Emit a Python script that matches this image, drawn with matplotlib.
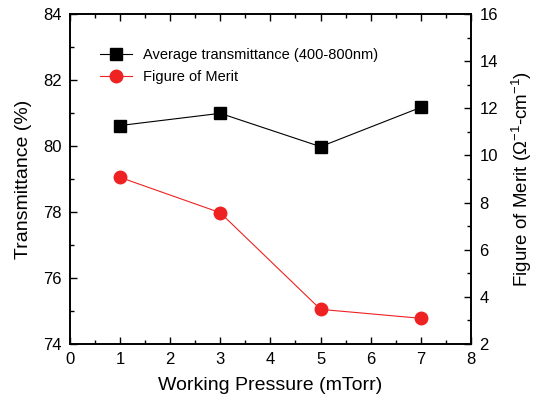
import matplotlib
matplotlib.use('Agg')
import matplotlib.pyplot as plt
from matplotlib.ticker import MultipleLocator

plt.rcParams['font.family'] = ['Liberation Sans', 'DejaVu Sans']
plt.rcParams['mathtext.fontset'] = 'custom'
plt.rcParams['mathtext.rm'] = 'Liberation Sans'

# data
pressure = [1, 3, 5, 7]
transmittance = [80.62, 80.99, 79.98, 81.17]
merit = [9.07, 7.57, 3.47, 3.09]

fig = plt.figure(figsize=(5.37, 4.0), dpi=100)
ax = fig.add_axes([0.130, 0.14, 0.747, 0.825])
ax2 = ax.twinx()

l1, = ax.plot(pressure, transmittance, color='black', lw=0.8, marker='s',
              ms=8, label='Average transmittance (400-800nm)')
l2, = ax2.plot(pressure, merit, color='#ee2222', lw=0.8, marker='o',
               ms=9, label='Figure of Merit')

ax.set_xlim(0, 8)
ax.set_ylim(74, 84)
ax2.set_ylim(2, 16)

ax.xaxis.set_major_locator(MultipleLocator(1))
ax.xaxis.set_minor_locator(MultipleLocator(0.5))
ax.yaxis.set_major_locator(MultipleLocator(2))
ax.yaxis.set_minor_locator(MultipleLocator(1))
ax2.yaxis.set_major_locator(MultipleLocator(2))
ax2.yaxis.set_minor_locator(MultipleLocator(1))

ax.tick_params(which='both', direction='in', top=True, labelsize=12, pad=6)
ax.tick_params(which='major', length=5, width=1)
ax.tick_params(which='minor', length=3, width=1)
ax2.tick_params(which='both', direction='in', labelsize=12, pad=6)
ax2.tick_params(which='major', length=5, width=1)
ax2.tick_params(which='minor', length=3, width=1)
for a in (ax, ax2):
    for s in a.spines.values():
        s.set_linewidth(1.2)

ax.set_xlabel('Working Pressure (mTorr)', fontsize=14, labelpad=7)
ax.set_ylabel('Transmittance (%)', fontsize=14, labelpad=8)
ax2.set_ylabel(r'Figure of Merit ($\Omega^{-1}$-cm$^{-1}$)', fontsize=13.5,
               labelpad=8)

ax.legend([l1, l2], [l1.get_label(), l2.get_label()], loc='upper left',
          bbox_to_anchor=(0.06, 0.915), frameon=False, fontsize=10.5,
          handlelength=2.2, borderaxespad=0, labelspacing=0.55)

fig.savefig('out.png', dpi=100)
